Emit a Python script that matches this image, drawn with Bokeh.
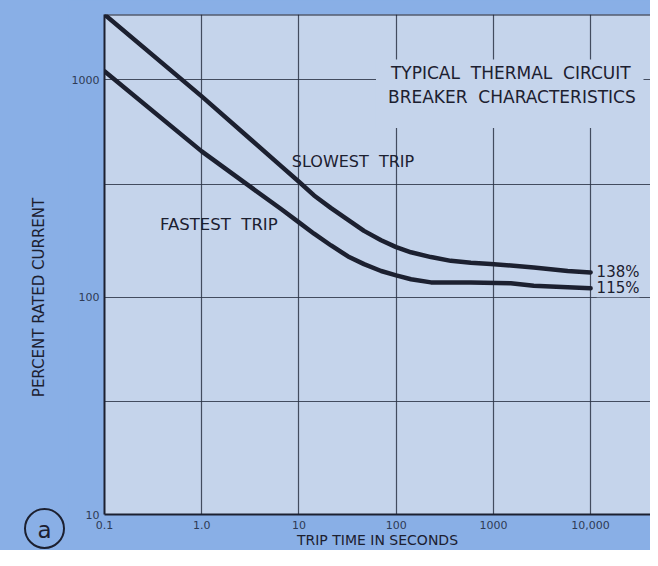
import math
from bokeh.plotting import figure
from bokeh.layouts import row
from bokeh.models import FixedTicker, Label, Span, Range1d, BoxAnnotation
from bokeh.core.properties import value
from bokeh.embed import file_html
from bokeh.resources import INLINE

# ---- data ----
x_ticks = [0.1, 1, 10, 100, 1000, 10000]
x_tick_labels = ["0.1", "1.0", "10", "100", "1000", "10,000"]
y_ticks = [10, 100, 1000]
y_tick_labels = ["10", "100", "1000"]
y_grid = [33, 100, 330, 1000]

slow_time = [0.1, 1, 3.2, 6.6, 10, 14.3, 21.4, 32, 46.7, 70, 100, 142, 228, 365, 586, 940, 1510, 2600, 5810, 10000]
slow_pct = [2000, 840, 532, 400, 340, 294, 257, 227, 202, 183, 170, 161, 153, 147, 144, 142, 140, 137, 132, 130]
fast_time = [0.1, 1, 3.2, 6.6, 10, 14.3, 21.4, 32, 46.7, 70, 100, 142, 228, 586, 1510, 2600, 5810, 10000]
fast_pct = [1095, 469, 321, 254, 221, 196, 173, 154, 142, 132, 126, 121, 117, 117, 116, 113, 111, 110]

OUTER = "#89afe6"
PLOT_BG = "#c5d4eb"
INK = "#1c2030"
GRID = "#2c3446"
FONT = "DejaVu Sans"
NB = "\u00a0"
H = 550
LEFT_W = 68


def no_frame_align(fig):
    try:
        fig.frame_align = False
    except Exception:
        pass


# ---- narrow left strip: vertical axis title and circled panel letter ----
s = figure(width=LEFT_W, height=H, x_range=Range1d(0, LEFT_W), y_range=Range1d(0, H),
           x_axis_location=None, y_axis_location=None,
           min_border_left=0, min_border_right=0, min_border_top=0, min_border_bottom=0,
           toolbar_location=None, output_backend="svg")
no_frame_align(s)
s.grid.visible = False
s.outline_line_color = None
s.background_fill_color = OUTER
s.border_fill_color = OUTER
s.text(x=[38], y=[H - 297], text=["PERCENT" + NB + "RATED" + NB + "CURRENT"],
       angle=math.pi / 2, text_align="center", text_baseline="middle",
       text_font=value(FONT), text_font_size="15px", text_color=INK)
s.scatter(x=[44], y=[H - 528], size=39, marker="circle", fill_alpha=0,
          line_color=INK, line_width=2)
s.text(x=[44], y=[H - 529], text=["a"], text_align="center", text_baseline="middle",
       text_font=value(FONT), text_font_size="23px", text_color=INK)

# ---- main chart ----
p = figure(width=650 - LEFT_W, height=H, x_axis_type="log", y_axis_type="log",
           x_range=Range1d(0.1, 41300), y_range=Range1d(10, 2000),
           min_border_left=35, min_border_right=0, min_border_top=14, min_border_bottom=35,
           toolbar_location=None, output_backend="svg")
no_frame_align(p)
p.border_fill_color = OUTER
p.background_fill_color = PLOT_BG
p.outline_line_color = None

for ax in (p.xaxis[0], p.yaxis[0]):
    ax.major_tick_line_color = None
    ax.minor_tick_line_color = None
    ax.major_tick_out = 0
    ax.major_tick_in = 0
    ax.minor_tick_out = 0
    ax.minor_tick_in = 0
    ax.axis_line_color = INK
    ax.axis_line_width = 2
    ax.major_label_text_font = FONT
    ax.major_label_text_font_size = "11px"
    ax.major_label_text_color = "#2e3a55"
    ax.axis_label_text_font = FONT
    ax.axis_label_text_font_style = "normal"
    ax.axis_label_text_color = INK

p.xaxis.ticker = FixedTicker(ticks=x_ticks)
p.xaxis.major_label_overrides = {t: lbl for t, lbl in zip(x_ticks, x_tick_labels)}
p.xaxis.major_label_standoff = 6
p.xaxis.axis_label = "TRIP" + NB + "TIME" + NB + "IN" + NB + "SECONDS"
p.xaxis.axis_label_text_font_size = "14px"
p.xaxis.axis_label_standoff = 0

p.yaxis.ticker = FixedTicker(ticks=y_ticks)
p.yaxis.major_label_overrides = {t: lbl for t, lbl in zip(y_ticks, y_tick_labels)}
p.yaxis.major_label_standoff = 5

p.xgrid.ticker = FixedTicker(ticks=x_ticks[1:])
p.ygrid.ticker = FixedTicker(ticks=y_grid)
for g in (p.xgrid[0], p.ygrid[0]):
    g.grid_line_color = GRID
    g.grid_line_width = 1.2
    g.grid_line_alpha = 0.85

p.add_layout(Span(location=2000, dimension="width", line_color=INK, line_width=2))

p.line(slow_time, slow_pct, line_color=INK, line_width=4.5, line_join="round", line_cap="round")
p.line(fast_time, fast_pct, line_color=INK, line_width=4.5, line_join="round", line_cap="round")

# box hiding grid behind the chart title
p.add_layout(BoxAnnotation(left=62, right=35000, bottom=600, top=1240,
                           fill_color=PLOT_BG, fill_alpha=1, line_color=None))


def lab(x, y, text, size, **kw):
    kw.setdefault("text_align", "center")
    kw.setdefault("text_baseline", "middle")
    p.add_layout(Label(x=x, y=y, text=text, text_font=FONT, text_font_size=size,
                       text_color=INK, **kw))


gap = NB * 2
lab(1510, 1072, "TYPICAL" + gap + "THERMAL" + gap + "CIRCUIT", "17px")
lab(1550, 832, "BREAKER" + gap + "CHARACTERISTICS", "17px")
lab(36, 422, "SLOWEST" + gap + "TRIP", "16px")
lab(1.5, 217, "FASTEST" + gap + "TRIP", "16.5px")
lab(slow_time[-1], slow_pct[-1], "138%", "15px", text_align="left", x_offset=6,
    background_fill_color=PLOT_BG, background_fill_alpha=1)
lab(fast_time[-1], fast_pct[-1], "115%", "15px", text_align="left", x_offset=6,
    background_fill_color=PLOT_BG, background_fill_alpha=1)

layout = row(s, p)
try:
    layout.spacing = 0
    layout.styles = {"background-color": OUTER}
except Exception:
    pass
open("out.html", "w").write(file_html(layout, INLINE))
